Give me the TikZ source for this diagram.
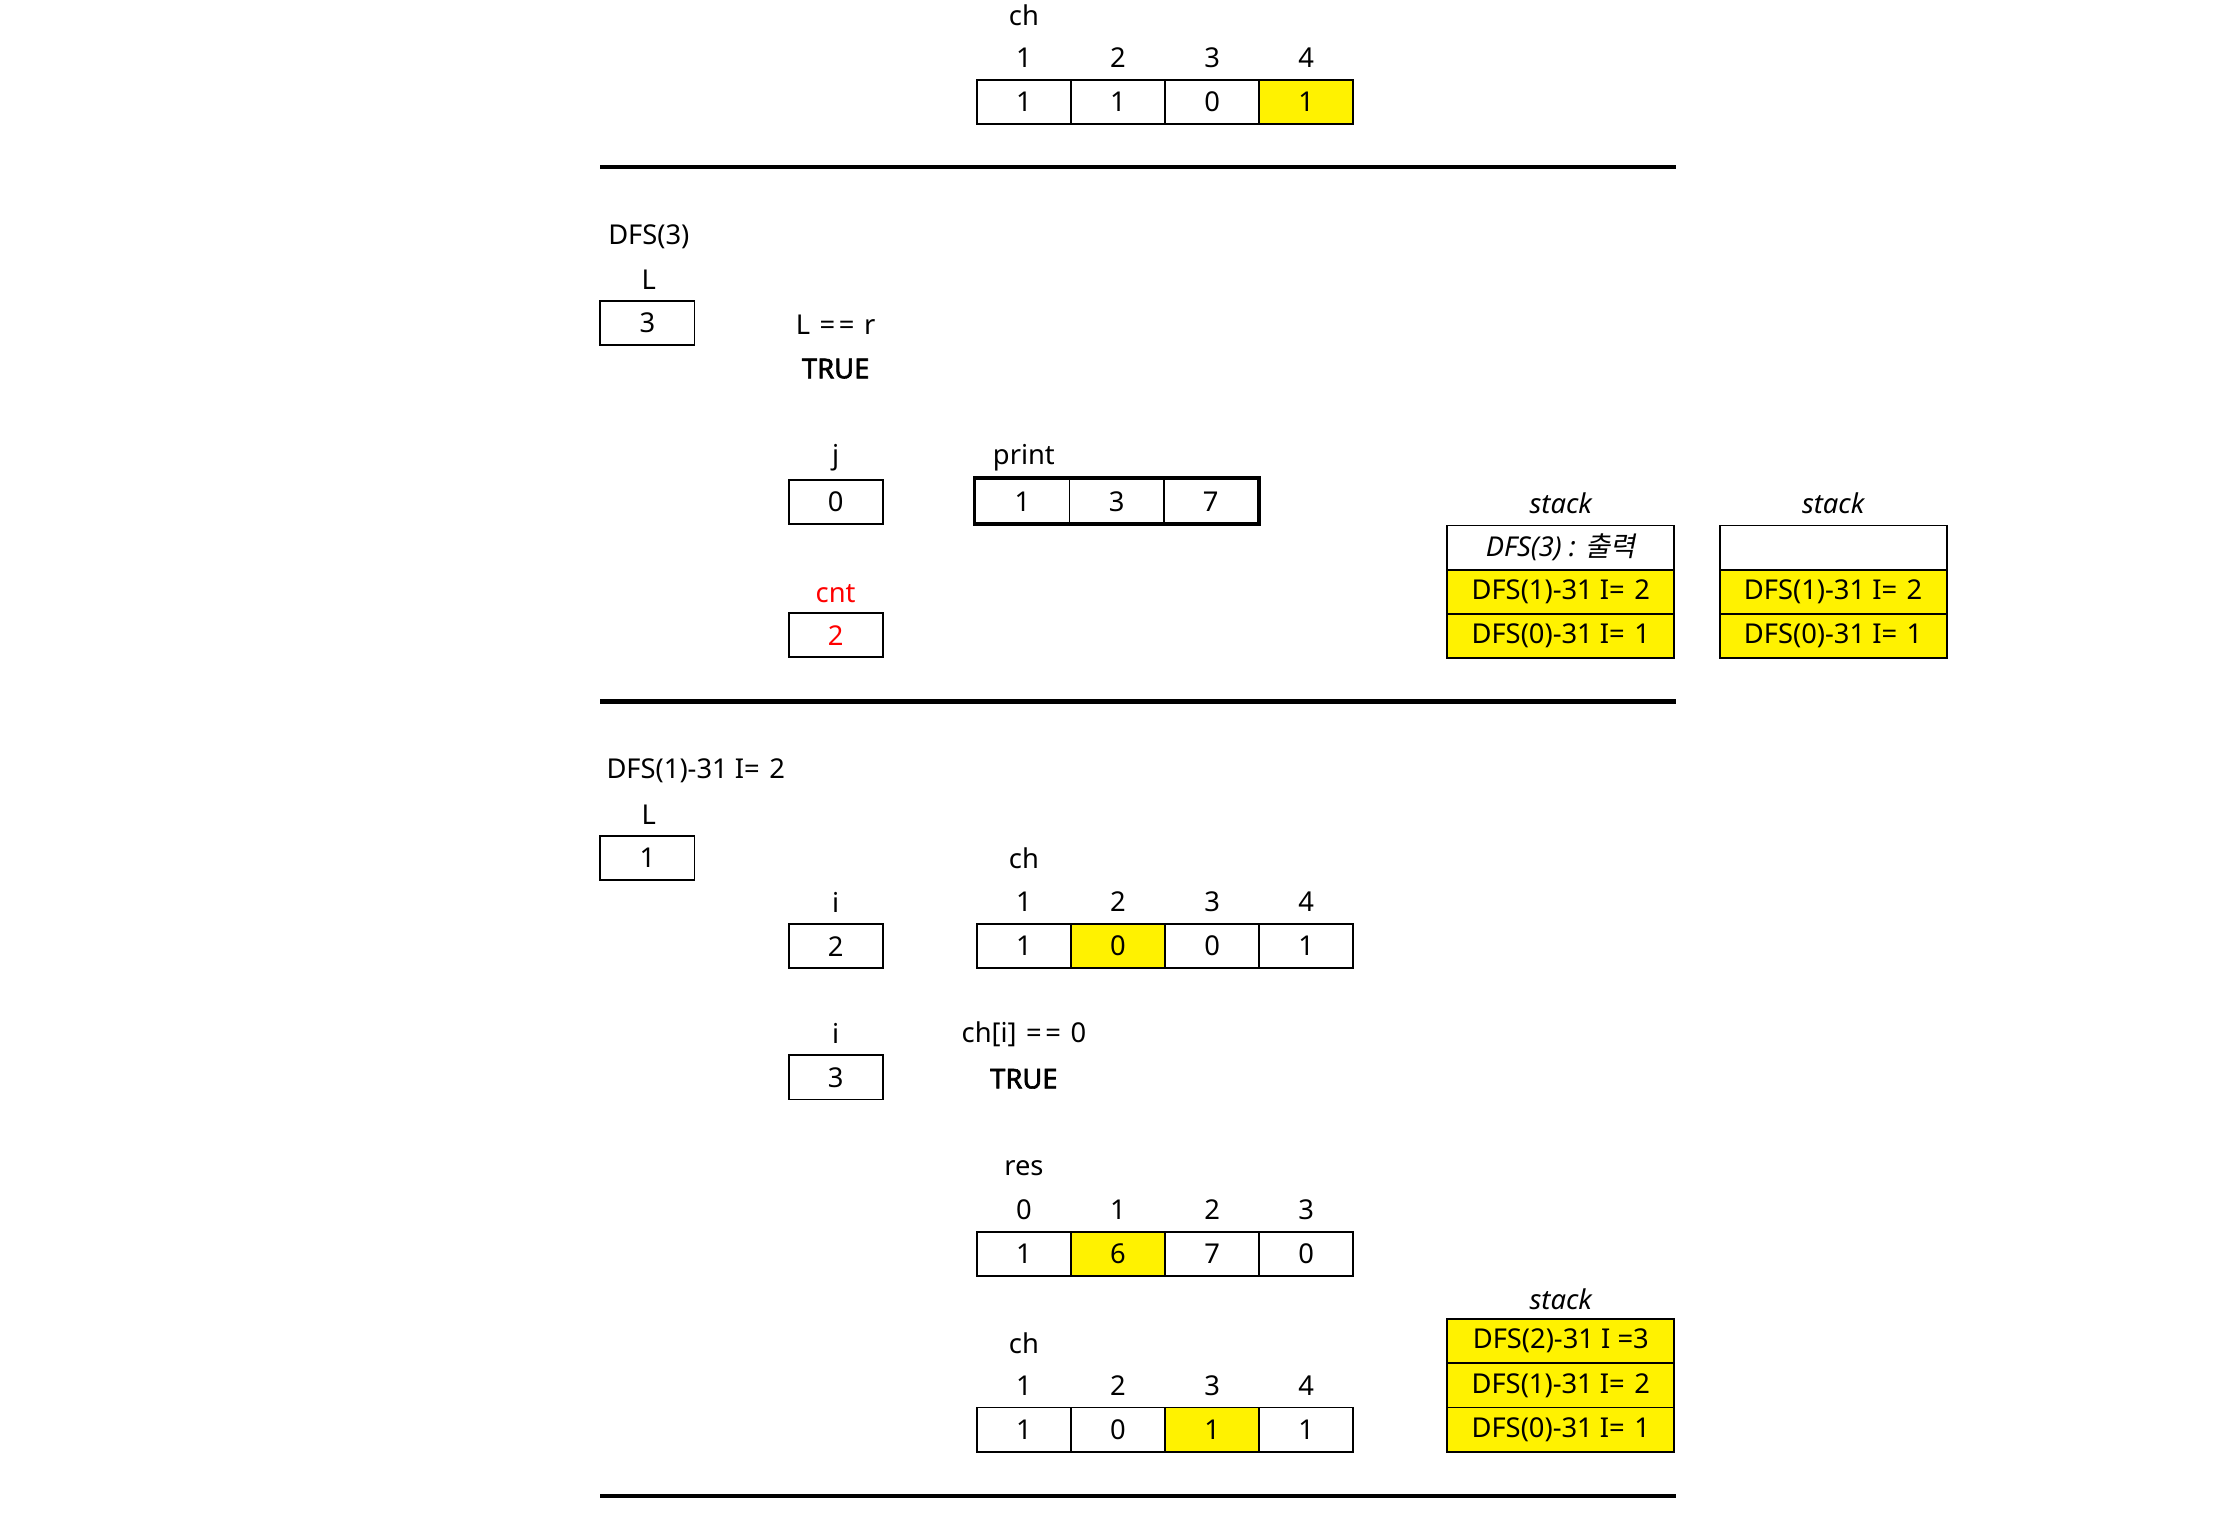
\documentclass[tikz,border=0pt]{standalone}
\usepackage{fontspec}
\setmainfont{Noto Sans}
\newfontfamily\krit[FakeSlant=0.2]{Noto Sans CJK KR}
\newfontfamily\heavy[FakeBold=2.2]{Noto Sans}
\begin{document}
\begin{tikzpicture}[x=0.6pt,y=-0.6pt,
  every node/.style={font=\fontsize{11.5}{13}\selectfont, inner sep=0pt, anchor=center},
  cell/.style={draw, line width=0.8pt, minimum width=39.6pt, minimum height=18.6pt},
  hl/.style={fill=yellow},
  stk/.style={draw, line width=0.8pt, minimum width=95.4pt, minimum height=18.6pt},
  rule/.style={line width=1.8pt},
  strong/.style={font=\fontsize{11.5}{13}\selectfont\heavy},
  it/.style={font=\fontsize{11.5}{13}\selectfont\itshape}]
\useasboundingbox (0,0) rectangle (1568,1066);

% ---------- top: ch array ----------
\node (tchlab) at (718,11) {ch};
\foreach \v/\s [count=\k] in {1/,1/,0/,1/hl} {
  \node (tchi\k) at ({718+66*(\k-1)},40.5) {\k};
  \node[cell,\s] (tch\k) at ({718+66*(\k-1)},71.5) {\v};
}
\coordinate (r1a) at (421,117);
\coordinate (r1b) at (1175,117);
\draw[rule] (r1a) -- (r1b);

% ---------- DFS(3) ----------
\node (d3title) at (455,166) {DFS(3)};
\node (d3Llab) at (455,196.5) {L};
\node[cell] (d3L) at (454,226.5) {3};
\node (d3cond) at (586,227.5) {L\kern4pt=\kern1.5pt=\kern4pt r};
\node[strong] (d3true) at (586,258.5) {TRUE};
\node (d3jlab) at (586,321) {j};
\node[cell] (d3j) at (586,352) {0};
\node (d3plab) at (718,321) {print};
\foreach \v [count=\k] in {1,3,7} {
  \node[cell] (pr\k) at ({717+66*(\k-1)},351.5) {\v};
}
\draw[line width=1.6pt] (pr1.north west) rectangle (pr3.south east);
\node[red] (d3clab) at (586,416) {cnt};
\node[cell,text=red] (d3c) at (586,445.5) {2};

% stack after DFS(3)
\node[it] (s1lab) at (1094.5,353) {stack};
\node[stk] (s1a) at (1094.5,384) {\itshape DFS(3) : {\krit 출력}};
\node[stk,hl] (s1b) at (1094.5,415) {DFS(1)-31 I=\kern4pt 2};
\node[stk,hl] (s1c) at (1094.5,446) {DFS(0)-31 I=\kern4pt 1};

% stack after pop
\node[it] (s2lab) at (1285.5,353) {stack};
\node[stk] (s2a) at (1285.5,384) {};
\node[stk,hl] (s2b) at (1285.5,415) {DFS(1)-31 I=\kern4pt 2};
\node[stk,hl] (s2c) at (1285.5,446) {DFS(0)-31 I=\kern4pt 1};

\coordinate (r2a) at (421,492);
\coordinate (r2b) at (1175,492);
\draw[rule] (r2a) -- (r2b);

% ---------- DFS(1) resumed ----------
\node[anchor=west] (d1title) at (425,540.5) {DFS(1)-31 I=\kern4pt 2};
\node (d1Llab) at (455,571.5) {L};
\node[cell] (d1L) at (454,601.5) {1};
\node (d1ilab) at (586,632.5) {i};
\node[cell] (d1i) at (586,663.5) {2};
\node (mchlab) at (718,602) {ch};
\foreach \v/\s [count=\k] in {1/,0/hl,0/,1/} {
  \node (mchi\k) at ({718+66*(\k-1)},632.5) {\k};
  \node[cell,\s] (mch\k) at ({718+66*(\k-1)},663.5) {\v};
}
\node (d1i2lab) at (586,724.5) {i};
\node[cell] (d1i2) at (586,755.5) {3};
\node (d1cond) at (718,725.5) {ch[i]\kern4pt=\kern1.5pt=\kern4pt 0};
\node[strong] (d1true) at (718,756.5) {TRUE};

\node (reslab) at (718,819) {res};
\foreach \v/\s [count=\k] in {1/,6/hl,7/,0/} {
  \node (resi\k) at ({718+66*(\k-1)},848.5) {\the\numexpr\k-1\relax};
  \node[cell,\s] (res\k) at ({718+66*(\k-1)},879.5) {\v};
}
\node (bchlab) at (718,942) {ch};
\foreach \v/\s [count=\k] in {1/,0/,1/hl,1/} {
  \node (bchi\k) at ({718+66*(\k-1)},971.5) {\k};
  \node[cell,\s] (bch\k) at ({718+66*(\k-1)},1002.5) {\v};
}

\node[it] (s3lab) at (1094.5,911) {stack};
\node[stk,hl] (s3a) at (1094.5,940.5) {DFS(2)-31 I =3};
\node[stk,hl] (s3b) at (1094.5,971.5) {DFS(1)-31 I=\kern4pt 2};
\node[stk,hl] (s3c) at (1094.5,1002.5) {DFS(0)-31 I=\kern4pt 1};

\coordinate (r3a) at (421,1049);
\coordinate (r3b) at (1175,1049);
\draw[rule] (r3a) -- (r3b);
\end{tikzpicture}
\end{document}
